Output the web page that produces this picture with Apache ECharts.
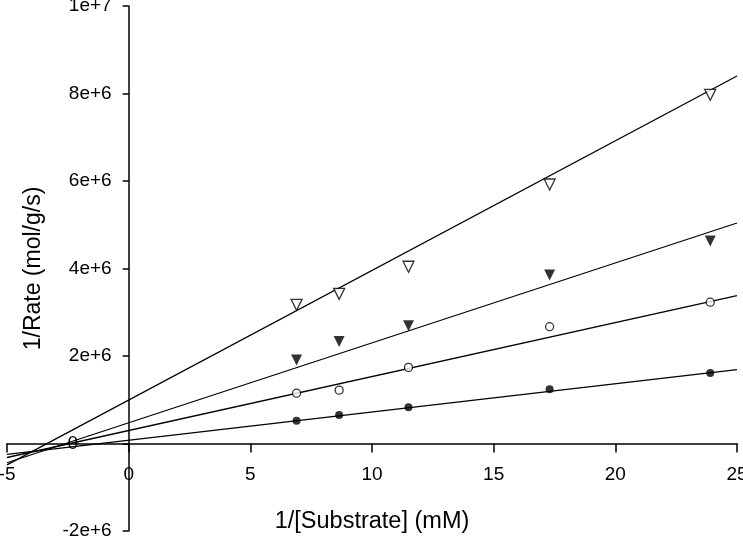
<!DOCTYPE html>
<html>
<head>
<meta charset="utf-8">
<script src="https://cdn.jsdelivr.net/npm/echarts@6/dist/echarts.min.js"></script>
<style>
html,body{margin:0;padding:0;background:#fff;}
#chart{width:743px;height:539px;}
</style>
</head>
<body>
<div id="chart"></div>
<script>
// ---- data ----
var xValues = [6.9, 8.65, 11.5, 17.3, 23.9];
var filledCircles = [0.52e6, 0.65e6, 0.83e6, 1.24e6, 1.61e6];
var openCircles   = [1.15e6, 1.22e6, 1.74e6, 2.67e6, 3.23e6];
var filledTris    = [1.91e6, 2.33e6, 2.69e6, 3.85e6, 4.63e6];
var openTris      = [3.17e6, 3.42e6, 4.04e6, 5.92e6, 7.97e6];
// fitted lines: values at x = lineX[0] and lineX[1]
var lineX = [-5, 25];
var fitFilledCircles = [-0.25e6, 1.69e6];
var fitOpenCircles   = [-0.32e6, 3.38e6];
var fitFilledTris    = [-0.44e6, 5.04e6];
var fitOpenTris      = [-0.49e6, 8.40e6];
var xTicks = [-5, 0, 5, 10, 15, 20, 25];
var yTicks = [-2e6, 0, 2e6, 4e6, 6e6, 8e6, 1e7];
var yTickLabels = ['-2e+6', '', '2e+6', '4e+6', '6e+6', '8e+6', '1e+7'];
var strayZeroText = '0';
var strayZeroAt = [-2.3, 0];

function pts(ys) { return xValues.map(function (x, i) { return [x, ys[i]]; }); }
function fit(ys) { return lineX.map(function (x, i) { return [x, ys[i]]; }); }

var FONT = "'Liberation Sans', Arial, sans-serif";
var X_MARGIN = 22, Y_MARGIN = 17, TICK_FONT = 19;
var chart = echarts.init(document.getElementById('chart'), null, {renderer: 'canvas'});

function scatter(name, ys, symbol, filled, rotate, size) {
  return {
    name: name, type: 'scatter', data: pts(ys), symbol: symbol, symbolSize: size,
    symbolRotate: rotate, z: 5,
    itemStyle: { color: filled ? '#000' : '#fff', borderColor: '#000', borderWidth: filled ? 0 : 1.3 }
  };
}
function fitLine(name, ys) {
  return {
    name: name, type: 'line', data: fit(ys), showSymbol: false, symbol: 'none', z: 3,
    lineStyle: { color: '#000', width: 1.3 }
  };
}
function yLabel(v) { var i = yTicks.indexOf(v); return i >= 0 ? yTickLabels[i] : ''; }

var GRID = { left: 7, right: 6, top: 6, bottom: 8 };
var W = 743, H = 539;
var plotW = W - GRID.left - GRID.right, plotH = H - GRID.top - GRID.bottom;
var xMin = xTicks[0], xMax = xTicks[xTicks.length - 1];
var yMin = yTicks[0], yMax = yTicks[yTicks.length - 1];
// the axes sit on the zero lines inside the grid
var xAxisOffset = -plotH * (0 - yMin) / (yMax - yMin);
var yAxisOffset = -plotW * (0 - xMin) / (xMax - xMin);

chart.setOption({
  animation: false,
  backgroundColor: '#fff',
  textStyle: { fontFamily: FONT },
  grid: { left: GRID.left, right: GRID.right, top: GRID.top, bottom: GRID.bottom, containLabel: false },
  xAxis: {
    type: 'value', min: xMin, max: xMax, interval: 5, position: 'bottom', offset: xAxisOffset,
    splitLine: { show: false },
    axisLine: { onZero: false, lineStyle: { color: '#000', width: 1.5 } },
    axisTick: { inside: false, length: 9, lineStyle: { color: '#000', width: 1.5 } },
    axisLabel: { color: '#000', fontSize: TICK_FONT, fontFamily: FONT, margin: X_MARGIN,
      formatter: function (v) { return (v === xMin || v === xMax) ? '' : String(v); } },
    name: '1/[Substrate] (mM)', nameLocation: 'middle', nameGap: 66,
    nameTextStyle: { color: '#000', fontSize: 23.5, fontFamily: FONT }
  },
  yAxis: {
    type: 'value', min: yMin, max: yMax, interval: 2e6, position: 'left', offset: yAxisOffset,
    splitLine: { show: false },
    axisLine: { onZero: false, lineStyle: { color: '#000', width: 1.5 } },
    axisTick: { inside: false, length: 6, lineStyle: { color: '#000', width: 1.5 } },
    axisLabel: { color: '#000', fontSize: TICK_FONT, fontFamily: FONT, margin: Y_MARGIN,
      formatter: function (v) { return (v === yMin || v === yMax) ? '' : yLabel(v); } },
    name: '1/Rate (mol/g/s)', nameLocation: 'middle', nameGap: 84, nameRotate: 90,
    nameTextStyle: { color: '#000', fontSize: 23, fontFamily: FONT }
  },
  series: [
    fitLine('fit1', fitFilledCircles),
    fitLine('fit2', fitOpenCircles),
    fitLine('fit3', fitFilledTris),
    fitLine('fit4', fitOpenTris),
    scatter('filled circles', filledCircles, 'circle', true, 0, 8),
    scatter('open circles', openCircles, 'circle', false, 0, 8),
    scatter('filled triangles', filledTris, 'triangle', true, 180, 11),
    scatter('open triangles', openTris, 'triangle', false, 180, 11)
  ]
});

// edge tick labels (they hang past the canvas edge, so they are drawn as text graphics)
function txt(t, pos, align, vAlign) {
  return { type: 'text', x: pos[0], y: pos[1], z: 10,
    style: { text: t, fill: '#000', font: TICK_FONT + 'px ' + FONT, textAlign: align, textVerticalAlign: vAlign } };
}
var g = [];
[xMin, xMax].forEach(function (v) {
  var q = chart.convertToPixel({gridIndex: 0}, [v, 0]);
  g.push(txt(String(v), [q[0], q[1] + X_MARGIN], 'center', 'top'));
});
[yMin, yMax].forEach(function (v) {
  var q = chart.convertToPixel({gridIndex: 0}, [0, v]);
  g.push(txt(yLabel(v), [q[0] - Y_MARGIN, q[1]], 'right', 'middle'));
});
var p = chart.convertToPixel({gridIndex: 0}, strayZeroAt);
g.push(txt(strayZeroText, p, 'center', 'middle'));
chart.setOption({ graphic: g });
</script>
</body>
</html>
